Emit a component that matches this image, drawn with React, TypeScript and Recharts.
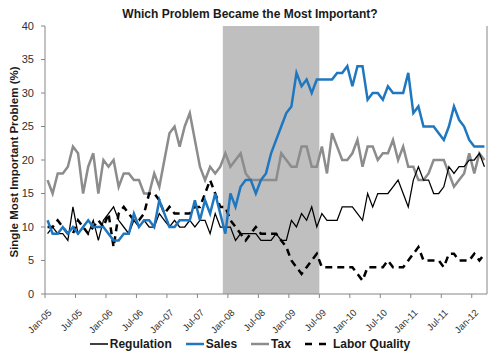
import React from 'react';
import { LineChart, Line, XAxis, YAxis, ReferenceArea, ReferenceLine } from 'recharts';

// Monthly categories Jan-05 .. Mar-12
const monthNames = ['Jan', 'Feb', 'Mar', 'Apr', 'May', 'Jun', 'Jul', 'Aug', 'Sep', 'Oct', 'Nov', 'Dec'];
const categories: string[] = [];
for (let y = 5; y <= 12; y++) {
  for (let m = 0; m < 12; m++) {
    if (y === 12 && m > 2) break;
    categories.push(`${monthNames[m]}-${String(y).padStart(2, '0')}`);
  }
}

const regulation = [
  9, 10, 9, 9, 8, 13, 9, 10, 9, 11, 8, 11, 12, 13, 11, 10, 9, 11, 10, 11,
  10, 10, 12, 11, 10, 11, 10, 10, 11, 10, 11, 11, 9, 12, 10, 10, 10, 8, 9, 9,
  9, 9, 8, 8, 8, 9, 8, 8, 11, 10, 12, 11, 13, 10, 12, 11, 11, 11, 13, 13,
  13, 12, 11, 15, 13, 15, 15, 15, 16, 17, 15, 13, 17, 19, 17, 17, 15, 15, 16, 19,
  18, 19, 19, 20, 20, 21, 19,
];

const sales = [
  11, 9, 9, 10, 9, 10, 9, 10, 11, 10, 10, 10, 9, 8, 8, 9, 9, 12, 10, 11,
  11, 10, 14, 12, 10, 10, 11, 11, 11, 14, 11, 14, 12, 15, 12, 9, 15, 13, 16, 17,
  17, 15, 17, 18, 21, 23, 25, 27, 28, 33, 31, 32, 30, 32, 32, 32, 32, 33, 33, 34,
  31, 34, 34, 29, 30, 30, 29, 31, 30, 30, 30, 33, 27, 28, 25, 25, 25, 24, 23, 25,
  28, 26, 25, 23, 22, 22, 22,
];

const tax = [
  17, 15, 18, 18, 19, 22, 21, 15, 19, 21, 15, 20, 19, 20, 16, 18, 18, 17, 17, 15,
  15, 18, 16, 20, 24, 25, 22, 25, 27, 23, 19, 17, 19, 18, 19, 21, 19, 20, 21, 18,
  17, 17, 17, 17, 17, 17, 21, 20, 19, 19, 22, 22, 19, 19, 22, 18, 24, 22, 20, 20,
  21, 23, 19, 22, 22, 20, 21, 21, 23, 20, 22, 19, 19, 17, 17, 18, 20, 20, 20, 18,
  16, 17, 18, 21, 18, 21, 20,
];

const laborQuality = [
  10, 10, 11, 10, 9, 9, 11, 10, 9, 10, 11, 10, 12, 7, 12, 13, 12, 11, 11, 12,
  15, 15, 14, 12, 13, 12, 12, 12, 12, 13, 13, 15, 17, 15, 13, 13, 11, 10, 9, 8,
  9, 10, 9, 9, 9, 9, 8, 7, 5, 4, 3, 4, 5, 6, 4, 4, 4, 4, 4, 4,
  4, 3, 2, 4, 4, 4, 4, 5, 4, 4, 4, 5, 6, 7, 5, 5, 5, 5, 4, 6,
  6, 5, 5, 5, 6, 5, 6,
];

const tickLabels = [
  'Jan-05', 'Jul-05', 'Jan-06', 'Jul-06', 'Jan-07', 'Jul-07', 'Jan-08', 'Jul-08',
  'Jan-09', 'Jul-09', 'Jan-10', 'Jul-10', 'Jan-11', 'Jul-11', 'Jan-12',
];
const yTicks = [0, 5, 10, 15, 20, 25, 30, 35, 40];

// Recession shading: Dec-07 .. Jun-09 (category indices)
const recessionStart = categories.indexOf('Dec-07');
const recessionEnd = categories.indexOf('Jun-09');

const data = categories.map((c, i) => ({
  idx: i,
  month: c,
  regulation: regulation[i],
  sales: sales[i],
  tax: tax[i],
  laborQuality: laborQuality[i],
}));

const xTickValues = tickLabels.map((t) => categories.indexOf(t) - 0.5);

const FONT = '"Liberation Sans", Arial, sans-serif';
const AXIS_COLOR = '#868686';
const TEXT_COLOR = '#303030';

const XTick = (props: any) => {
  const { x, y, payload } = props;
  const label = tickLabels[xTickValues.indexOf(payload.value)] ?? '';
  const ax = x + 5;
  const ay = y + 11;
  return (
    <text
      x={ax}
      y={ay}
      transform={`rotate(-45 ${ax} ${ay})`}
      textAnchor="end"
      dy="0.35em"
      fontSize={9.5}
      fontFamily={FONT}
      fill={TEXT_COLOR}
    >
      {label}
    </text>
  );
};

const YLabel = (props: any) => {
  const vb = props.viewBox || { x: 0, y: 26, width: 45, height: 268 };
  const cx = vb.x + 14;
  const cy = vb.y + vb.height / 2 + 2;
  return (
    <text
      x={cx}
      y={cy}
      transform={`rotate(-90 ${cx} ${cy})`}
      textAnchor="middle"
      dominantBaseline="central"
      fontSize={11.5}
      fontWeight="bold"
      fontFamily={FONT}
      fill="#1a1a1a"
    >
      Single Most Important Problem (%)
    </text>
  );
};

const legendItems = [
  { name: 'Regulation', color: '#000000', width: 1.5, dash: undefined as string | undefined },
  { name: 'Sales', color: '#1F77C0', width: 2.5, dash: undefined },
  { name: 'Tax', color: '#8C8C8C', width: 2.5, dash: undefined },
  { name: 'Labor Quality', color: '#000000', width: 2.5, dash: '7 7' },
];

export default function App() {
  return (
    <div style={{ position: 'absolute', left: 0, top: 0, width: 500, height: 361, background: '#fff' }}>
      <div
        style={{
          position: 'absolute',
          left: 0,
          top: 6,
          width: 500,
          textAlign: 'center',
          fontFamily: FONT,
          fontWeight: 'bold',
          fontSize: 12,
          color: '#1a1a1a',
          lineHeight: '16px',
        }}
      >
        Which Problem Became the Most Important?
      </div>
      <LineChart
        width={500}
        height={361}
        data={data}
        margin={{ top: 26, right: 13, bottom: 0, left: 0 }}
      >
        <ReferenceArea
          x1={recessionStart - 0.5}
          x2={recessionEnd + 0.5}
          y1={0}
          y2={40}
          fill="#BFBFBF"
          fillOpacity={1}
          stroke="none"
          ifOverflow="hidden"
        />
        <XAxis
          dataKey="idx"
          type="number"
          domain={[-0.5, categories.length - 0.5]}
          ticks={xTickValues}
          interval={0}
          allowDataOverflow
          height={67}
          tickSize={4}
          tickMargin={2}
          axisLine={{ stroke: AXIS_COLOR }}
          tickLine={{ stroke: AXIS_COLOR }}
          tick={<XTick />}
        />
        <YAxis
          type="number"
          domain={[0, 40]}
          ticks={yTicks}
          interval={0}
          width={45}
          tickSize={4}
          tickMargin={7}
          axisLine={{ stroke: AXIS_COLOR }}
          tickLine={{ stroke: AXIS_COLOR }}
          tick={{ fontSize: 11, fontFamily: FONT, fill: TEXT_COLOR }}
          label={<YLabel />}
        />
        <ReferenceLine x={categories.length - 0.5} stroke={AXIS_COLOR} strokeWidth={1} />
        <Line
          type="linear"
          dataKey="tax"
          stroke="#8C8C8C"
          strokeWidth={2.5}
          dot={false}
          isAnimationActive={false}
        />
        <Line
          type="linear"
          dataKey="regulation"
          stroke="#000000"
          strokeWidth={1.25}
          dot={false}
          isAnimationActive={false}
        />
        <Line
          type="linear"
          dataKey="laborQuality"
          stroke="#000000"
          strokeWidth={2.5}
          strokeDasharray="7 5"
          dot={false}
          isAnimationActive={false}
        />
        <Line
          type="linear"
          dataKey="sales"
          stroke="#1F77C0"
          strokeWidth={2.5}
          dot={false}
          isAnimationActive={false}
        />
      </LineChart>
      <div
        style={{
          position: 'absolute',
          left: 0,
          top: 336,
          width: 500,
          display: 'flex',
          justifyContent: 'center',
          alignItems: 'center',
          gap: 14,
          fontFamily: FONT,
          fontWeight: 'bold',
          fontSize: 12,
          color: '#1a1a1a',
          lineHeight: '16px',
        }}
      >
        {legendItems.map((it) => (
          <div key={it.name} style={{ display: 'flex', alignItems: 'center' }}>
            <svg width={it.dash ? 26 : 18} height={10} style={{ marginRight: 2 }}>
              <line
                x1={0}
                y1={5}
                x2={it.dash ? 26 : 18}
                y2={5}
                stroke={it.color}
                strokeWidth={it.width}
                strokeDasharray={it.dash}
              />
            </svg>
            <span>{it.name}</span>
          </div>
        ))}
      </div>
    </div>
  );
}
